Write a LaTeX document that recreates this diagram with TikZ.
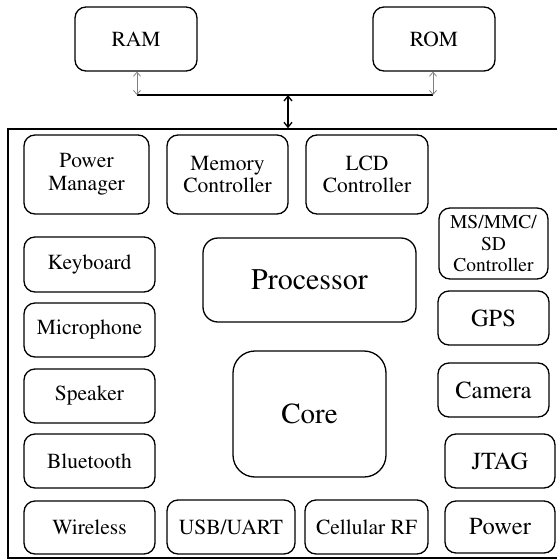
\documentclass[tikz,border=0pt]{standalone}
\usepackage[T1]{fontenc}
\usepackage{times}
\usetikzlibrary{arrows.meta}

\begin{document}
\begin{tikzpicture}[x=1pt, y=-1pt,
    blk/.style={draw=black, line width=1.3pt, rounded corners=11pt, align=center, inner sep=0pt,
        font=\rmfamily\fontsize{21.5}{22.5}\selectfont},
    blkbig/.style={blk, font=\rmfamily\fontsize{24.5}{26}\selectfont},
    membus/.style={<->, >={Straight Barb[length=4pt, width=7pt]}, gray, line width=0.8pt}]
        \useasboundingbox (0,0) rectangle (557,560);

        % memories above the chip
        \node[blk, minimum width=122pt, minimum height=64pt] (ram) at (136, 39) {RAM};
        \node[blk, minimum width=122pt, minimum height=64pt] (rom) at (434, 39) {ROM};

        % chip outline, its right side runs off the page
        \node[draw=black, line width=1.4pt, minimum width=556pt, minimum height=429pt, inner sep=0pt] (soc) at (286, 343.5) {};

        % bus
        \coordinate (busL) at (137, 95);
        \coordinate (busR) at (433, 95);
        \coordinate (busM) at (288, 95);
        \draw[line width=1.3pt] (busL) -- (busR);
        \draw[membus] (ram.south -| busL) -- (busL);
        \draw[membus] (rom.south -| busR) -- (busR);
        \draw[<->, >={Straight Barb[length=5pt, width=8pt]}, line width=1.3pt] (busM) -- (busM |- soc.north);

        % top row
        \node[blk, minimum width=125pt, minimum height=79pt] (pwrmgr) at (86.5, 174.5) {Power\\Manager};
        \node[blk, minimum width=121pt, minimum height=79pt] (memctl) at (227.5, 174.5) {Memory\\Controller};
        \node[blk, minimum width=122pt, minimum height=79pt] (lcdctl) at (367, 174.5) {LCD\\Controller};

        % left column
        \node[blk, minimum width=131pt, minimum height=55pt] (keyb) at (89.5, 264.5) {Keyboard};
        \node[blk, minimum width=131pt, minimum height=54pt] (mic) at (89.5, 330) {Microphone};
        \node[blk, minimum width=131pt, minimum height=54pt] (spk) at (89.5, 396) {Speaker};
        \node[blk, minimum width=131pt, minimum height=54pt] (bt) at (89.5, 461) {Bluetooth};
        \node[blk, minimum width=131pt, minimum height=53pt] (wlan) at (89.5, 527.5) {Wireless};

        % bottom row
        \node[blk, minimum width=128pt, minimum height=54pt] (usb) at (231, 527) {USB/UART};
        \node[blk, minimum width=123pt, minimum height=54pt] (cell) at (366.5, 527) {Cellular RF};

        % right column
        \node[blk, minimum width=109pt, minimum height=71pt, font=\rmfamily\fontsize{19.5}{21.5}\selectfont] (mmc) at (493.5, 243.5) {MS/MMC/\\SD\\Controller};
        \node[blkbig, minimum width=111pt, minimum height=54pt] (gps) at (493.5, 318) {GPS};
        \node[blkbig, minimum width=111pt, minimum height=54pt] (cam) at (493.5, 390) {Camera};
        \node[blkbig, minimum width=110pt, minimum height=54pt] (jtag) at (500, 461) {JTAG};
        \node[blkbig, minimum width=110pt, minimum height=52pt] (pwr) at (500, 527) {Power};

        % centre
        \node[blk, minimum width=213pt, minimum height=84pt, rounded corners=15pt, font=\rmfamily\fontsize{30}{32}\selectfont] (proc) at (309.5, 280) {Processor};
        \node[blk, minimum width=153pt, minimum height=126pt, rounded corners=22pt, font=\rmfamily\fontsize{29}{31}\selectfont] (core) at (309.5, 414) {Core};
\end{tikzpicture}
\end{document}
